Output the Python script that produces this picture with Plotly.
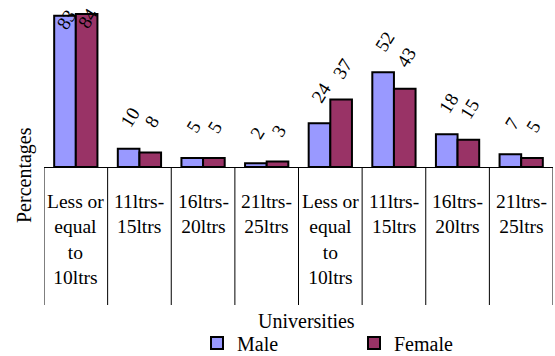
import plotly.graph_objects as go

categories = ["Less or<br>equal<br>to<br>10ltrs", "11ltrs-<br>15ltrs", "16ltrs-<br>20ltrs", "21ltrs-<br>25ltrs",
              "Less or<br>equal<br>to<br>10ltrs", "11ltrs-<br>15ltrs", "16ltrs-<br>20ltrs", "21ltrs-<br>25ltrs"]
male = [83, 10, 5, 2, 24, 52, 18, 7]
female = [84, 8, 5, 3, 37, 43, 15, 5]
series_names = ["Male", "Female"]
colors = ["#9999FF", "#993366"]
x_title = "Universities"
y_title = "Percentages"

W, H = 555, 356
ML, MR, MT, MB = 44, 2, 3, 189
YMAX = 90
BARGAP = 0.32
FONT = "Liberation Serif, Times New Roman, serif"

plot_h = H - MT - MB
box_bottom_px = 305 - (H - MB)  # pixels below axis

xs = list(range(len(categories)))
fig = go.Figure()
for name, vals, col in zip(series_names, [male, female], colors):
    fig.add_trace(go.Bar(x=xs, y=vals, name=name, marker=dict(color=col, line=dict(color="black", width=2))))

half = (1 - BARGAP) / 4
annotations = []
for k, vals in enumerate([male, female]):
    off = -half if k == 0 else half
    for i, v in enumerate(vals):
        top_px = v / YMAX * plot_h
        shift = 31 if top_px + 45 < plot_h else -4
        annotations.append(dict(x=i + off, y=v, xref="x", yref="y", text=str(v), showarrow=False,
                                textangle=-58, yshift=shift, xshift=1.5, xanchor="center", yanchor="middle",
                                font=dict(family=FONT, size=19, color="black")))

for i, c in enumerate(categories):
    annotations.append(dict(x=i, y=0, xref="x", yref="paper", text=c, showarrow=False,
                            yanchor="top", yshift=-22, font=dict(family=FONT, size=19.5, color="black")))

annotations.append(dict(x=(306 - ML) / (W - ML - MR), y=-(321 - (H - MB)) / plot_h, xref="paper", yref="paper",
                        text=x_title, showarrow=False, xanchor="center", yanchor="middle",
                        font=dict(family=FONT, size=20, color="black")))
annotations.append(dict(x=-(ML - 24) / (W - ML - MR), y=-(175 - (H - MB)) / plot_h, xref="paper", yref="paper",
                        text=y_title, showarrow=False, textangle=-90, xanchor="center", yanchor="middle",
                        font=dict(family=FONT, size=20, color="black")))

shapes = []
for i in range(len(categories) + 1):
    shapes.append(dict(type="line", xref="x", yref="paper", x0=i - 0.5, x1=i - 0.5, y0=0,
                       y1=-box_bottom_px / plot_h, line=dict(color="black", width=1)))

fig.update_layout(
    width=W, height=H, margin=dict(l=ML, r=MR, t=MT, b=MB, autoexpand=False),
    plot_bgcolor="white", paper_bgcolor="white",
    barmode="group", bargap=BARGAP, bargroupgap=0,
    xaxis=dict(range=[-0.5, len(categories) - 0.5], showticklabels=False, ticks="", showgrid=False,
               zeroline=False, showline=True, linecolor="black", linewidth=1),
    yaxis=dict(range=[0, YMAX], visible=False),
    annotations=annotations, shapes=shapes,
    showlegend=True,
    legend=dict(orientation="h", xref="container", x=197 / W, xanchor="left",
                yref="container", y=1 - 343 / H, yanchor="middle", entrywidth=112,
                font=dict(family=FONT, size=20, color="black"), itemwidth=30),
    font=dict(family=FONT, color="black"),
)
fig.write_html("out.html", config={"displayModeBar": False},
               post_script="document.body.style.margin='0';document.body.style.overflow='hidden';")
